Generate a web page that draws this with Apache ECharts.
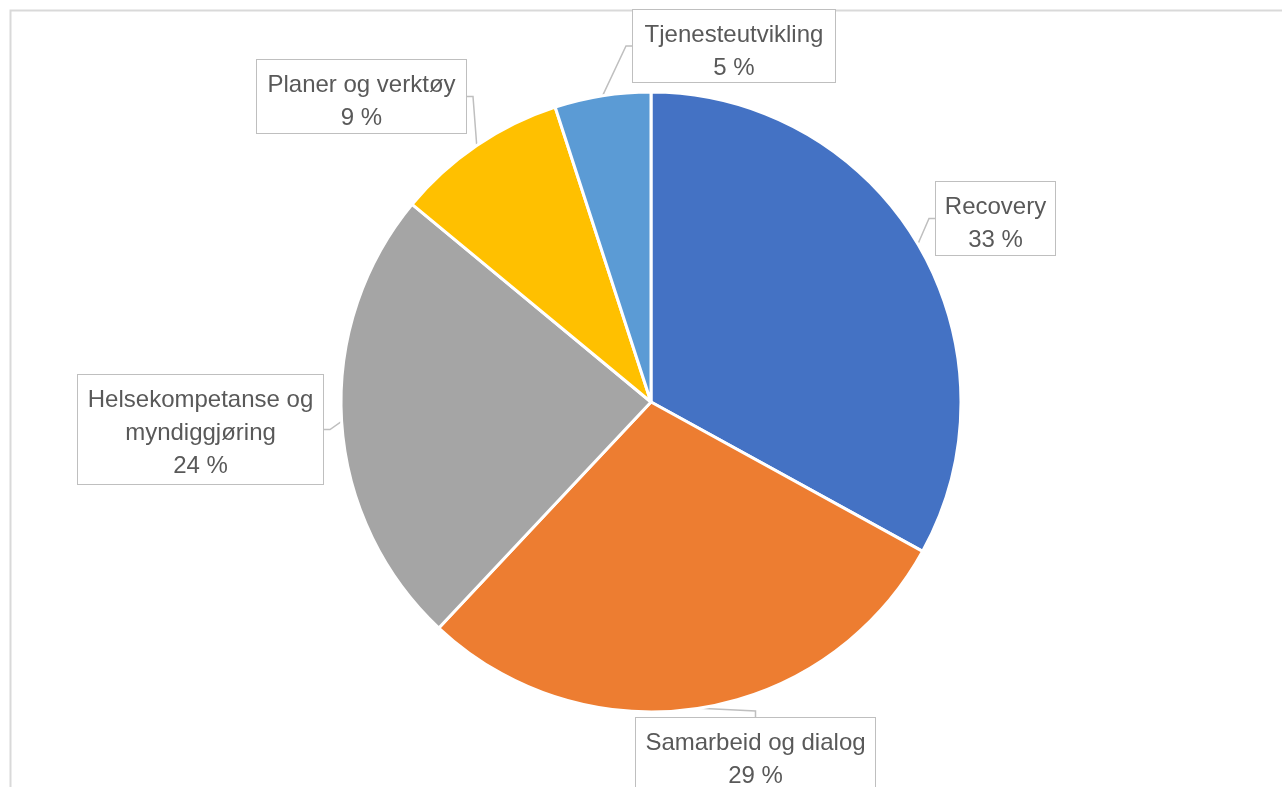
<!DOCTYPE html>
<html>
<head>
<meta charset="utf-8">
<script src="https://cdn.jsdelivr.net/npm/echarts@6/dist/echarts.min.js"></script>
<style>
    html, body { margin:0; padding:0; background:#fff; }
    #pie { width:1282px; height:787px; }
</style>
</head>
<body>
<div id="pie"></div>
<script>
// data
var categories = ['Recovery', 'Samarbeid og dialog', 'Helsekompetanse og\nmyndiggjøring', 'Planer og verktøy', 'Tjenesteutvikling']
var values = [33, 29, 24, 9, 5]
var colors = ['#4472c4', '#ed7d31', '#a5a5a5', '#ffc000', '#5b9bd5']

// label box top-left corner + size (px)
var boxes = [
    { x: 936, y: 182, w: 119, h: 73 },
    { x: 636, y: 718, w: 239, h: 76 },
    { x: 78, y: 375, w: 245, h: 109 },
    { x: 257, y: 60, w: 209, h: 73 },
    { x: 633, y: 10, w: 202, h: 72 }
]
var padTop = 9

var chart = echarts.init(document.getElementById('pie'))

var data = categories.map(function (name, i) {
    return {
        name: name,
        value: values[i],
        itemStyle: { color: colors[i] },
        label: { width: boxes[i].w, height: boxes[i].h - padTop }
    }
})

var option = {
    animation: false,
    graphic: [{
        type: 'rect',
        shape: { x: 10.5, y: 10.5, width: 1300, height: 800 },
        style: { fill: null, stroke: '#d9d9d9', lineWidth: 2 },
        silent: true
    }],
    series: [{
        type: 'pie',
        center: [651, 402],
        radius: 310,
        startAngle: 90,
        clockwise: true,
        data: data,
        itemStyle: { borderColor: '#fff', borderWidth: 3 },
        label: {
            show: true,
            position: 'outside',
            formatter: '{b}\n{c} %',
            fontFamily: 'Liberation Sans',
            fontSize: 24,
            lineHeight: 33,
            color: '#595959',
            backgroundColor: '#fff',
            borderColor: '#bfbfbf',
            borderWidth: 1,
            padding: [padTop, 0, 0, 0],
            align: 'center',
            verticalAlign: 'top'
        },
        labelLine: {
            show: true,
            length: 8,
            length2: 6,
            lineStyle: { color: '#bfbfbf', width: 1.5 }
        },
        labelLayout: function (params) {
            var b = boxes[params.dataIndex]
            return { x: b.x + b.w / 2, y: b.y, align: 'center', verticalAlign: 'top' }
        }
    }]
}
chart.setOption(option)
</script>
</body>
</html>
